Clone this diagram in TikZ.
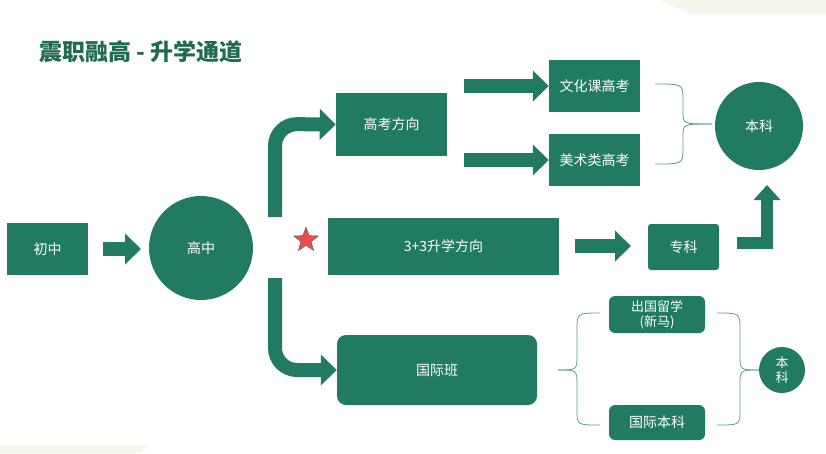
\documentclass[tikz,border=0pt]{standalone}
\usepackage{fontspec}
\setmainfont{Noto Sans CJK SC}
\usetikzlibrary{arrows.meta,shapes.geometric}
\definecolor{gr}{HTML}{217A62}
\definecolor{tg}{HTML}{1E6B50}
\definecolor{br}{HTML}{5E9E8A}
\begin{document}
\begin{tikzpicture}[x=1pt,y=-1pt,
  box/.style={fill=gr,text=white,inner sep=0pt,font=\fontsize{14}{16}\selectfont},
  circ/.style={circle,fill=gr,text=white,inner sep=0pt,font=\fontsize{14}{16}\selectfont},
  barrow/.style={gr,line width=14pt,-{Triangle[width=30pt,length=16pt]}},
  brc/.style={br,line width=0.8pt}]
\useasboundingbox (0,0) rectangle (826,453);
\fill[white] (0,0) rectangle (826,453);
\fill[color={rgb,255:red,246;green,247;blue,234}] (660,0) -- (826,0) -- (826,14) -- (690,14) -- cycle;
\fill[color={rgb,255:red,246;green,247;blue,234}] (0,445) -- (150,445) -- (140,453) -- (0,453) -- cycle;
\node[anchor=west,text=tg,font=\fontsize{23}{26}\selectfont\bfseries] (title) at (36,52) {震职融高 - 升学通道};
% nodes
\node[box,minimum width=81pt,minimum height=52pt] (cz) at (47.5,249) {初中};
\node[circ,minimum size=104pt] (gz) at (201,248) {高中};
\node[box,minimum width=111pt,minimum height=63pt] (gk) at (391.5,124.5) {高考方向};
\node[box,minimum width=91pt,minimum height=52pt] (wh) at (594.5,86) {文化课高考};
\node[box,minimum width=91pt,minimum height=52pt] (ms) at (594.5,160) {美术类高考};
\node[circ,minimum size=88pt] (bk) at (759,126) {本科};
\node[box,minimum width=231pt,minimum height=57pt] (ss) at (443.5,246.5) {3+3升学方向};
\node[box,rounded corners=3pt,minimum width=71pt,minimum height=46pt] (zk) at (683.5,247) {专科};
\node[box,rounded corners=9pt,minimum width=200pt,minimum height=70pt] (gj) at (437,370) {国际班};
\node[box,rounded corners=6pt,minimum width=96pt,minimum height=37pt,align=center,font=\fontsize{13}{15}\selectfont] (cg) at (657,314.5) {出国留学\\(新马)};
\node[box,rounded corners=6pt,minimum width=96pt,minimum height=35pt] (gb) at (657,422.5) {国际本科};
\node[circ,minimum size=46pt,align=center,font=\fontsize{13}{15}\selectfont] (bk2) at (782,370) {本\\科};
\node[star,star points=5,star point ratio=2.4,fill={rgb,255:red,230;green,80;blue,80},draw=gray!70!black,line width=0.4pt,minimum size=26pt,inner sep=0pt] (st) at (306,240) {};
% block arrows
\draw[barrow] (cz.east)++(15,0) -- (141,249);
\draw[barrow,rounded corners=22pt] (275,217) -- (275,124) -- (gk.west);
\draw[barrow,rounded corners=22pt] (275,278) -- (275,370) -- (gj.west);
\draw[barrow] (464,86) -- (wh.west);
\draw[barrow] (464,160) -- (ms.west);
\draw[barrow] (575,246) -- (631,246);
\draw[gr,line width=12pt,-{Triangle[width=26pt,length=15pt]}] (737,243) -- (767,243) -- (767,185);
% braces
\draw[brc] (655,84) .. controls (683,84) .. (683,100) -- (683,112) .. controls (683,124) .. (712,124);
\draw[brc] (655,164) .. controls (683,164) .. (683,148) -- (683,136) .. controls (683,124) .. (712,124);
\draw[brc] (600,313) .. controls (577,313) .. (577,330) -- (577,355) .. controls (577,370) .. (558,370);
\draw[brc] (600,425) .. controls (577,425) .. (577,410) -- (577,385) .. controls (577,370) .. (558,370);
\draw[brc] (717,313) .. controls (740,313) .. (740,330) -- (740,355) .. controls (740,370) .. (bk2.west);
\draw[brc] (717,425) .. controls (740,425) .. (740,410) -- (740,385) .. controls (740,370) .. (bk2.west);
\end{tikzpicture}
\end{document}
